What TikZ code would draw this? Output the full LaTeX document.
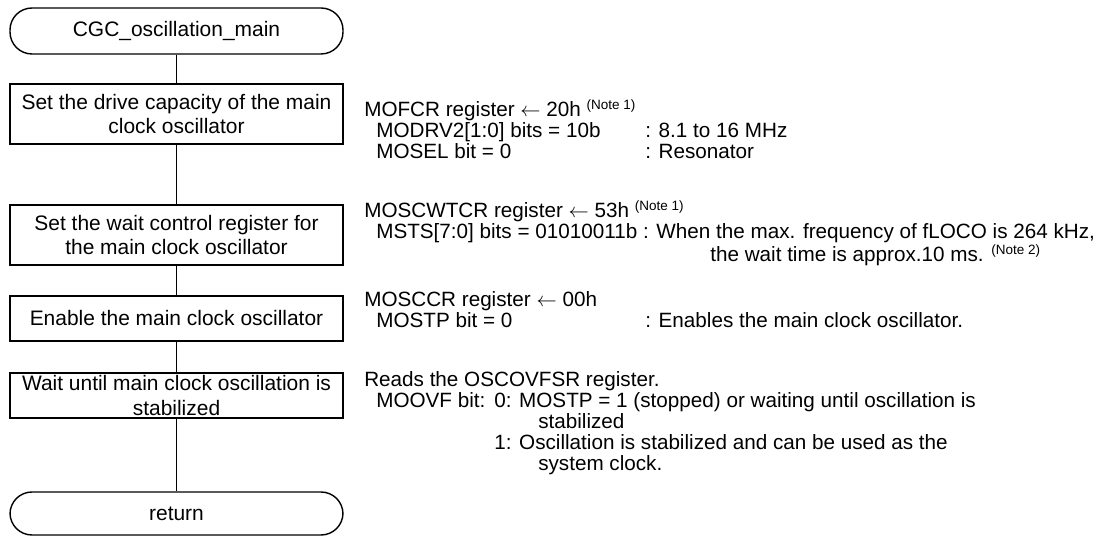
\documentclass[tikz,border=0pt]{standalone}
\usepackage{fontspec}
\setmainfont{Liberation Sans}
\newlength\pxl
\setlength\pxl{0.025cm}
\tikzset{
  flowbox/.style={draw, line width=1pt, minimum width=333\pxl, minimum height=60\pxl, inner sep=0pt, align=center, font=\fontsize{14.9}{17.7}\selectfont},
  terminal/.style={flowbox, rounded corners=22\pxl, minimum height=46\pxl},
  note/.style={anchor=base west, inner sep=0pt, font=\fontsize{14.7}{17}\selectfont},
  flowline/.style={line width=1pt},
}
\newcommand\notemark[1]{\raisebox{0.38em}{\fontsize{9.6}{11}\selectfont (Note #1)}}
\begin{document}
\begin{tikzpicture}[x=\pxl, y=-\pxl]
\useasboundingbox (0,0) rectangle (1117,536);

% flow of the main clock setup
\node[terminal] (start) at (176.5,31) {CGC\_oscillation\_main};
\node[flowbox] (drive) at (176.5,114) {Set the drive capacity of the main\\clock oscillator};
\node[flowbox] (waitreg) at (176.5,235) {Set the wait control register for\\the main clock oscillator};
\node[flowbox, minimum height=45\pxl] (enable) at (176.5,318.5) {Enable the main clock oscillator};
\node[flowbox, minimum height=45\pxl] (stable) at (176.5,395.5) {Wait until main clock oscillation is\\stabilized};
\node[terminal, minimum height=43\pxl] (ret) at (176.5,513.5) {return};
\draw[flowline] (start) -- (drive) -- (waitreg) -- (enable) -- (stable) -- (ret);

% MOFCR
\node[note] (mofcr) at (364,117) {MOFCR register $\leftarrow$ 20h \notemark{1}};
\node[note] (modrv) at (376,138) {MODRV2[1:0] bits = 10b};
\node[note] (modrvval) at (645,138) {: 8.1 to 16 MHz};
\node[note] (mosel) at (376,159) {MOSEL bit = 0};
\node[note] (moselval) at (645,159) {: Resonator};

% MOSCWTCR
\node[note] (moscwtcr) at (364,218) {MOSCWTCR register $\leftarrow$ 53h \notemark{1}};
\node[note] (msts) at (376,239) {MSTS[7:0] bits = 01010011b : When the max. frequency of fLOCO is 264 kHz,};
\node[note] (mstsmore) at (710,262) {the wait time is approx.10 ms. \notemark{2}};

% MOSCCR
\node[note] (mosccr) at (364,307) {MOSCCR register $\leftarrow$ 00h};
\node[note] (mostp) at (376,328) {MOSTP bit = 0};
\node[note] (mostpval) at (645,328) {: Enables the main clock oscillator.};

% OSCOVFSR
\node[note] (oscovfsr) at (364,387) {Reads the OSCOVFSR register.};
\node[note] (moovf) at (376,408) {MOOVF bit:};
\node[note] (moovfa) at (494,408) {0: MOSTP = 1 (stopped) or waiting until oscillation is};
\node[note] (moovfb) at (538,429) {stabilized};
\node[note] (moovfc) at (494,450) {1: Oscillation is stabilized and can be used as the};
\node[note] (moovfd) at (538,471) {system clock.};

\end{tikzpicture}
\end{document}
